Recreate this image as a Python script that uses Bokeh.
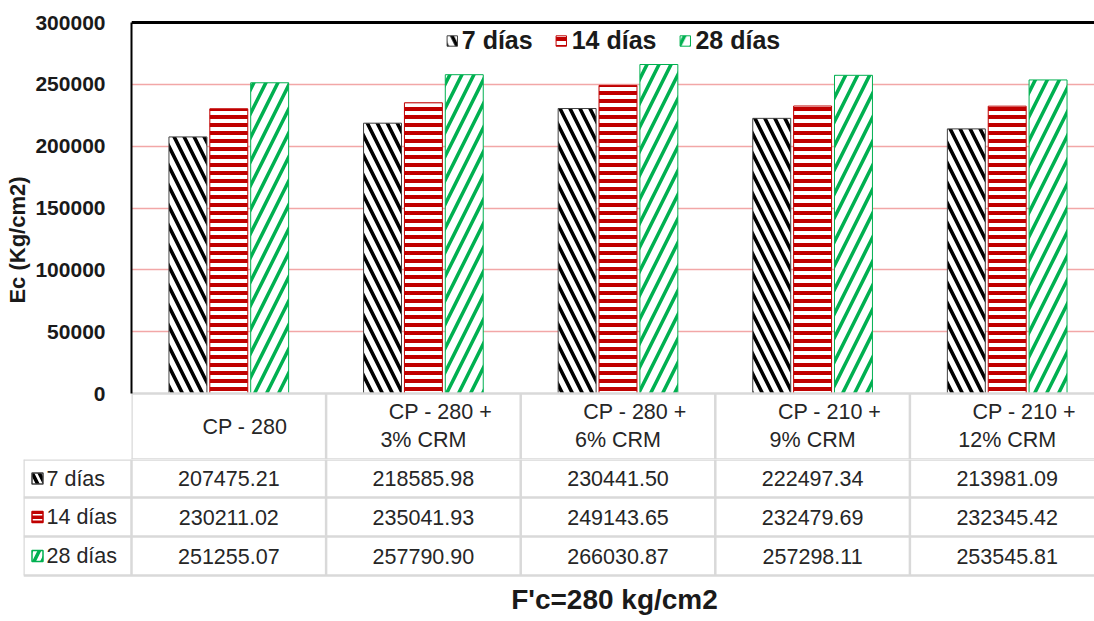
from bokeh.plotting import figure
from bokeh.models import Range1d, Span, FixedTicker, NumeralTickFormatter, Legend, LegendItem
from bokeh.core.properties import value
from bokeh.embed import file_html
from bokeh.resources import INLINE

# ---------------- data ----------------
cat_line1 = ["CP - 280", "CP - 280 +", "CP - 280 +", "CP - 210 +", "CP - 210 +"]
cat_line2 = ["", "3% CRM", "6% CRM", "9% CRM", "12% CRM"]
series_names = ["7 días", "14 días", "28 días"]
d7 = [207475.21, 218585.98, 230441.50, 222497.34, 213981.09]
d14 = [230211.02, 235041.93, 249143.65, 232479.69, 232345.42]
d28 = [251255.07, 257790.90, 266030.87, 257298.11, 253545.81]
y_ticks = [0, 50000, 100000, 150000, 200000, 250000, 300000]
y_label = "Ec (Kg/cm2)"
title_text = "F'c=280 kg/cm2"

# ---------------- styling ----------------
FONT = "Liberation Sans"
W = 1094
CAT_PX = 194.6                  # pixels per category
X_END = (W - 131) / CAT_PX
X_START_TABLE = -(131 - 23) / CAT_PX
U = 300000 / 371                # value units per pixel in the chart
series_data = [d7, d14, d28]
offsets = [-0.21, 0.0, 0.21]
bar_w = 0.195
line_cols = ["#404040", "#c00000", "#00b050"]
hatch_cols = ["#000000", "#c00000", "#00b050"]
grid_c = "#d9d9d9"
n = len(cat_line1)

hatch_kw = [
    dict(hatch_pattern="left_diagonal_line", hatch_color=hatch_cols[0], hatch_scale=20, hatch_weight=3.6),
    dict(hatch_pattern="horizontal_line", hatch_color=hatch_cols[1], hatch_scale=8, hatch_weight=4),
    dict(hatch_pattern="right_diagonal_line", hatch_color=hatch_cols[2], hatch_scale=24, hatch_weight=3.5),
]

# ---------------- chart (with header row of the table) ----------------
TOP_H = 459
p = figure(width=W, height=TOP_H, x_range=Range1d(0, X_END),
           y_range=Range1d(-66 * U, 300000 + 2 * U),
           output_backend="svg", toolbar_location=None, x_axis_location=None,
           min_border_left=131, min_border_right=0, min_border_top=20, min_border_bottom=0)
p.outline_line_color = None
p.background_fill_color = "white"
p.border_fill_color = "white"

renderers = []
for k in range(3):
    xs = [i + 0.5 + offsets[k] for i in range(n)]
    r = p.vbar(x=xs, top=series_data[k], bottom=0, width=bar_w, fill_color="white",
               line_color=line_cols[k], line_width=1, **hatch_kw[k])
    renderers.append(r)

p.add_layout(Span(location=300000, dimension="width", line_color="black", line_width=3))

ax = p.yaxis[0]
ax.bounds = (0, 300000)
ax.ticker = FixedTicker(ticks=y_ticks)
ax.formatter = NumeralTickFormatter(format="0")
ax.major_label_text_font = FONT
ax.major_label_text_font_size = "21px"
ax.major_label_text_font_style = "bold"
ax.major_label_text_color = "#1a1a1a"
ax.major_label_standoff = 20
ax.major_tick_line_color = None
ax.minor_tick_line_color = None
ax.axis_line_color = "black"
ax.axis_line_width = 2
ax.axis_label = y_label
ax.axis_label_text_font = FONT
ax.axis_label_text_font_size = "22px"
ax.axis_label_text_font_style = "bold"
ax.axis_label_text_color = "#1a1a1a"
ax.axis_label_standoff = 2

p.ygrid.ticker = FixedTicker(ticks=y_ticks[1:])
p.ygrid.grid_line_color = "#f2a7a7"
p.ygrid.grid_line_width = 1.5
p.xgrid.visible = False

# table header row: lines
hdr_bottom = -66 * U
p.segment(x0=[0, X_START_TABLE], y0=[0, hdr_bottom], x1=[X_END + 1] * 2, y1=[0, hdr_bottom],
          line_color=grid_c, line_width=2.5)
p.segment(x0=list(range(n + 1)), y0=[0] * (n + 1), x1=list(range(n + 1)), y1=[hdr_bottom] * (n + 1),
          line_color=grid_c, line_width=2.5)

txt_kw = dict(text_font=value(FONT), text_font_size="21.5px", text_color="#262626",
              text_baseline="middle")
single = [i for i in range(n) if cat_line2[i] == ""]
double = [i for i in range(n) if cat_line2[i] != ""]
p.text(x=[i + 0.5 + 16 / CAT_PX for i in single], y=[-33 * U] * len(single),
       text=[cat_line1[i] for i in single], text_align="center", **txt_kw)
p.text(x=[i + 0.5 + 17 / CAT_PX for i in double], y=[-18 * U] * len(double),
       text=[cat_line1[i] for i in double], text_align="center", **txt_kw)
p.text(x=[i + 0.5 for i in double], y=[-46 * U] * len(double),
       text=[cat_line2[i] for i in double], text_align="center", **txt_kw)

legend = Legend(items=[LegendItem(label=series_names[k], renderers=[renderers[k]]) for k in range(3)],
                orientation="horizontal", location="top_center")
legend.label_text_font = FONT
legend.label_text_font_size = "25px"
legend.label_text_font_style = "bold"
legend.label_text_color = "#1a1a1a"
legend.glyph_width = 13
legend.glyph_height = 13
legend.label_standoff = 4
legend.spacing = 22
legend.padding = 0
legend.margin = 6
legend.background_fill_alpha = 0
legend.border_line_color = None
p.add_layout(legend)

# ---------------- data rows of the table ----------------
BOT_H = 621 - TOP_H
q = figure(width=W, height=BOT_H, x_range=Range1d(X_START_TABLE, X_END), y_range=Range1d(0, BOT_H),
           output_backend="svg", toolbar_location=None, x_axis_location=None, y_axis_location=None,
           min_border_left=23, min_border_right=0, min_border_top=0, min_border_bottom=0)
q.outline_line_color = None
q.xgrid.visible = False
q.ygrid.visible = False
q.background_fill_color = "white"
q.border_fill_color = "white"

row_lines = [BOT_H, BOT_H - 38, BOT_H - 77, BOT_H - 116]
q.segment(x0=[X_START_TABLE] * len(row_lines), y0=row_lines, x1=[X_END + 1] * len(row_lines),
          y1=row_lines, line_color=grid_c, line_width=2.5)
vx = [X_START_TABLE] + list(range(n + 1))
q.segment(x0=vx, y0=[BOT_H] * len(vx), x1=vx, y1=[row_lines[-1]] * len(vx),
          line_color=grid_c, line_width=2.5)

row_centers = [(row_lines[k] + row_lines[k + 1]) / 2 for k in range(3)]
icon_scale = [14, 5, 16]
for k in range(3):
    q.text(x=[i + 0.5 for i in range(n)], y=[row_centers[k]] * n,
           text=["%.2f" % v for v in series_data[k]], text_align="center", **txt_kw)
    q.text(x=[X_START_TABLE + 23 / CAT_PX], y=[row_centers[k]], text=[series_names[k]],
           text_align="left", **txt_kw)
    kw = dict(hatch_kw[k])
    kw["hatch_scale"] = icon_scale[k]
    q.rect(x=[X_START_TABLE + 14 / CAT_PX], y=[row_centers[k]], width=11, height=11,
           width_units="screen", height_units="screen", fill_color="white",
           line_color=line_cols[k], line_width=1.5, **kw)

q.text(x=[(614 - 131) / CAT_PX], y=[22], text=[title_text], text_align="center",
       text_baseline="middle", text_font=value(FONT), text_font_size="28px",
       text_font_style="bold", text_color="#1a1a1a")

open("out.html", "w").write(file_html([p, q], INLINE))
